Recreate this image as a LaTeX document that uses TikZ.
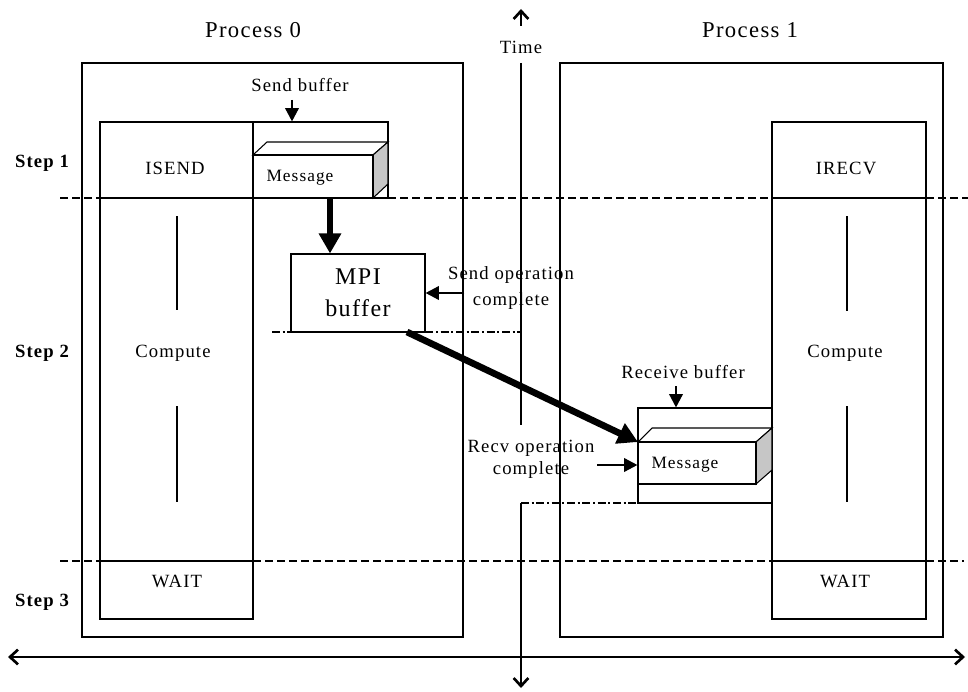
\documentclass[tikz,border=0pt]{standalone}
\usepackage{fontspec}
\setmainfont{Liberation Serif}[LetterSpace=6]
\usetikzlibrary{arrows.meta,fit}
\tikzset{
  outerbox/.style={draw, line width=2.1pt, inner sep=0pt},
  thinbox/.style={draw, line width=0.8pt, inner sep=0pt},
  lbl/.style={font=\fontsize{14}{16}\selectfont, inner sep=0pt},
  steplbl/.style={font=\fontsize{14}{16}\selectfont\bfseries, inner sep=0pt},
  proclbl/.style={font=\fontsize{17}{19}\selectfont, inner sep=0pt},
  stepline/.style={line width=2pt, dash pattern=on 6pt off 3pt},
  dashdot/.style={line width=1.4pt, dash pattern=on 6pt off 2pt on 1.5pt off 2pt},
  axis/.style={line width=2pt},
  chev/.style={-{Straight Barb[length=6pt,width=11pt]}},
  smallarr/.style={line width=1.8pt, -{Triangle[length=10pt,width=10pt]}},
  bigarr/.style={line width=5pt, -{Triangle[length=15pt,width=16pt]}},
  bar/.style={line width=2.2pt},
  shadeface/.style={draw, line width=0.8pt, fill=gray!45},
  whiteface/.style={draw, line width=0.8pt, fill=white},
}
\begin{document}
\begin{tikzpicture}[x=0.75pt,y=-0.75pt]
\useasboundingbox (0,0) rectangle (968,692);
\fill[white] (0,0) rectangle (968,692);

% ---------- outer process boxes ----------
\coordinate (p0tl) at (82,63);  \coordinate (p0br) at (463,637);
\coordinate (p1tl) at (560,63); \coordinate (p1br) at (943,637);
\node[outerbox, fit=(p0tl)(p0br)] (p0) {};
\node[outerbox, fit=(p1tl)(p1br)] (p1) {};

\node[proclbl] (p0lbl) at (253,30) {Process 0};
\node[proclbl] (p1lbl) at (750,30) {Process 1};

% ---------- step labels ----------
\node[steplbl] (s1) at (42,163) {Step 1};
\node[steplbl] (s2) at (42,353) {Step 2};
\node[steplbl] (s3) at (42,602) {Step 3};

% ---------- step dashed lines ----------
\coordinate (d1a) at (60,198);  \coordinate (d1b) at (100,198);
\coordinate (d1c) at (388,198); \coordinate (d1d) at (772,198);
\coordinate (d1e) at (926,198); \coordinate (d1f) at (968,198);
\draw[stepline] (d1a) -- (d1b);
\draw[stepline] (d1c) -- (d1d);
\draw[stepline] (d1e) -- (d1f);
\coordinate (d3a) at (60,561);  \coordinate (d3b) at (100,561);
\coordinate (d3c) at (253,561); \coordinate (d3d) at (772,561);
\coordinate (d3e) at (926,561); \coordinate (d3f) at (964,561);
\draw[stepline] (d3a) -- (d3b);
\draw[stepline] (d3c) -- (d3d);
\draw[stepline] (d3e) -- (d3f);

% ---------- process 0 column ----------
\coordinate (c0tl) at (100,122); \coordinate (c0br) at (253,619);
\node[thinbox, fit=(c0tl)(c0br)] (col0) {};
\draw[line width=0.8pt] (100,198) coordinate (c0d1) -- (253,198) coordinate (c0d1r);
\draw[line width=0.8pt] (100,561) coordinate (c0d3) -- (253,561) coordinate (c0d3r);
\node[lbl] (isend) at (175,168) {ISEND};
\node[lbl] (comp0) at (173,353) {Compute};
\node[lbl] (wait0) at (177,581) {WAIT};
\draw[bar] (177,216) coordinate (b0a) -- (177,310) coordinate (b0b);
\draw[bar] (177,406) coordinate (b0c) -- (177,502) coordinate (b0d);

% ---------- send buffer ----------
\coordinate (sbtl) at (253,122); \coordinate (sbbr) at (388,198);
\node[thinbox, fit=(sbtl)(sbbr)] (sbuf) {};
\node[lbl] (sblbl) at (300,85) {Send buffer};
\coordinate (sbarr) at (292,100);
\draw[smallarr] (sbarr) -- (sbarr |- sbuf.north);
% message box (3D)
\draw[whiteface] (253,155) -- (267,142) -- (388,142) -- (373,155) -- cycle;
\draw[shadeface] (373,155) -- (388,142) -- (388,184) -- (373,198) -- cycle;
\coordinate (smtl) at (253,155); \coordinate (smbr) at (373,198);
\node[thinbox, fill=white, fit=(smtl)(smbr)] (smsg) {};
\node[font=\fontsize{13}{15}\selectfont, inner sep=0pt] (smsglbl) at (300,178) {Message};

% ---------- MPI buffer ----------
\node[thinbox, minimum width=100.5pt, minimum height=58.5pt, align=center,
      font=\fontsize{18}{24}\selectfont] (mpi) at (358,293) {MPI\\buffer};
\coordinate (msgbot) at (330,198);
\draw[bigarr] (msgbot) -- (msgbot |- mpi.north);

% ---------- time axis ----------
\coordinate (ttop) at (521,63);
\coordinate (tgap1) at (521,425);
\coordinate (tgap2) at (521,503);
\coordinate (tbot) at (521,688);
\coordinate (tarr0) at (521,26);
\coordinate (tarr1) at (521,9);
\draw[axis, chev] (tarr0) -- (tarr1);
\node[lbl] (time) at (521,47) {Time};
\draw[axis] (ttop) -- (tgap1);
\draw[axis, chev] (tgap2) -- (tbot);

% ---------- send operation complete ----------
\node[lbl, align=center, font=\fontsize{14}{19.5}\selectfont] (sopc) at (511,288) {Send operation\\complete};
\draw[smallarr] (mpi.east -| p0.east) -- (mpi.east);
\coordinate (dda) at (272,332);
\draw[dashdot] (dda) -- (dda -| ttop);

% ---------- receive side ----------
\coordinate (c1tl) at (772,122); \coordinate (c1br) at (926,619);
\node[thinbox, fit=(c1tl)(c1br)] (col1) {};
\draw[line width=0.8pt] (772,198) coordinate (c1d1) -- (926,198) coordinate (c1d1r);
\draw[line width=0.8pt] (772,561) coordinate (c1d3) -- (926,561) coordinate (c1d3r);
\node[lbl] (irecv) at (846,168) {IRECV};
\node[lbl] (comp1) at (845,353) {Compute};
\node[lbl] (wait1) at (845,581) {WAIT};
\draw[bar] (847,216) coordinate (b1a) -- (847,311) coordinate (b1b);
\draw[bar] (847,406) coordinate (b1c) -- (847,502) coordinate (b1d);

\coordinate (rbtl) at (638,408); \coordinate (rbbr) at (772,503);
\node[thinbox, fit=(rbtl)(rbbr)] (rbuf) {};
\node[lbl] (rblbl) at (683,372) {Receive buffer};
\coordinate (rbarr) at (676,386);
\draw[smallarr] (rbarr) -- (rbarr |- rbuf.north);
\draw[whiteface] (638,442) -- (652,428) -- (772,428) -- (756,442) -- cycle;
\draw[shadeface] (756,442) -- (772,428) -- (772,470) -- (756,484) -- cycle;
\coordinate (rmtl) at (638,442); \coordinate (rmbr) at (756,484);
\node[thinbox, fill=white, fit=(rmtl)(rmbr)] (rmsg) {};
\node[font=\fontsize{13}{15}\selectfont, inner sep=0pt] (rmsglbl) at (685,465) {Message};

% dash-dot from time axis to receive buffer
\draw[dashdot] (tgap2) -- (tgap2 -| rbuf.east);

% recv operation complete
\node[lbl, align=center, font=\fontsize{14}{16.5}\selectfont] (ropc) at (531,459) {Recv operation\\complete};
\coordinate (rarr) at (597,465);
\draw[smallarr] (rarr) -- (rarr -| rmsg.west);

% big diagonal transfer
\coordinate (diag0) at (407,332);
\draw[bigarr] (diag0) -- (rmtl);

% ---------- bottom double arrow ----------
\coordinate (hl) at (8,657); \coordinate (hr) at (965,657);
\draw[axis, {Straight Barb[length=6pt,width=11pt]}-{Straight Barb[length=6pt,width=11pt]}] (hl) -- (hr);
\end{tikzpicture}
\end{document}
